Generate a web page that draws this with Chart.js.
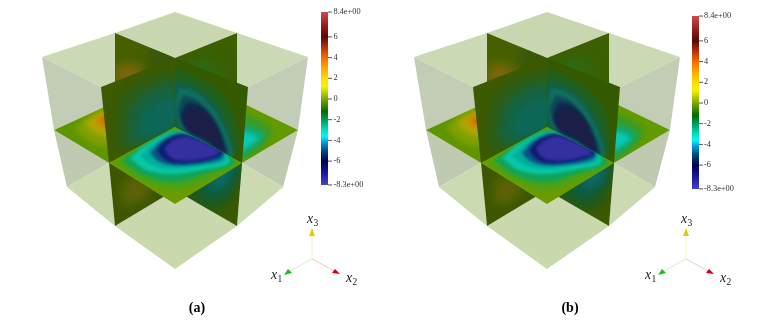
<!DOCTYPE html>
<html>
<head>
<meta charset="UTF-8">
<title>Cube slices</title>
<script src="https://cdn.jsdelivr.net/npm/chart.js"></script>
<style>
  html, body { margin: 0; background: #fff; }
  canvas { display: block; filter: blur(0.3px); }
</style>
</head>
<body>
<canvas id="chart" width="773" height="324"></canvas>
<script>
// colour bar
const barTicks = [8.4, 6, 4, 2, 0, -2, -4, -6, -8.3];
const barLabels = ['8.4e+00', '6', '4', '2', '0', '-2', '-4', '-6', '-8.3e+00'];
const barStopValues = [8.4, 7, 6, 5, 4, 3, 2, 1.2, 0, -1.2, -2, -3, -3.6, -4.2, -5, -6, -7, -8.3];
const barStopColors = ['#cc4a4a', '#8f1c1c', '#560808', '#b83208', '#f56a00', '#ffa800', '#ffdc00', '#f4f400',
  '#78a800', '#006c00', '#009a5c', '#00e0c0', '#00f8f8', '#0098d8', '#004c78', '#000050', '#14149a', '#4444cc'];

// pale outer faces of the cube
const topBack = [[175,12],[237,33],[175,58],[115,33]];
const topLeft = [[42,57],[115,33],[175,58],[101,87]];
const topRight = [[308,57],[237,33],[175,58],[248,87]];
const sideUpLeft = [[42,57],[101,87],[112,104],[54,130]];
const sideUpRight = [[308,57],[248,87],[238,104],[298,130]];
const sideLowLeft = [[54,130],[67,187],[109,163]];
const sideLowRight = [[298,130],[283,187],[242,163]];
const bottomLeft = [[67,187],[115,226],[109,163]];
const bottomRight = [[283,187],[237,226],[242,163]];
const bottomFront = [[115,226],[175,269],[237,226],[175,190]];

// slices: outline, then contour bands from outside in
const backLeft = [[115,33],[175,58],[175,127],[115,115]];
const backLeftBands = [
  ['#38580a', [[150,44],[178,56],[178,100],[150,95]]],
  ['#5f6606', [[113,64],[130,60],[146,70],[136,88],[116,90]]],
  ['#80660c', [[118,70],[129,67],[138,72],[130,80],[118,80]]]
];
const backRight = [[237,33],[175,58],[175,127],[237,115]];
const backRightBands = [
  ['#35640a', [[180,60],[205,54],[222,60],[224,90],[185,95]]],
  ['#2a6a1c', [[190,66],[206,64],[212,72],[204,82],[190,80]]]
];
const wingLeft = [[54,130],[120,100],[175,127],[109,163]];
const wingLeftBands = [
  ['#80a000', [[74,128],[90,114],[112,106],[114,144],[94,144]]],
  ['#b0a800', [[84,124],[96,115],[112,110],[112,136],[98,134]]],
  ['#cc9000', [[92,122],[102,115],[112,113],[112,128],[102,128]]],
  ['#c47008', [[99,120],[105,116],[112,116],[112,125],[104,125]]]
];
const wingRight = [[298,130],[240,102],[175,127],[242,163]];
const wingRightBands = [
  ['#3a9c24', [[240,112],[260,120],[272,132],[260,149],[240,160],[228,130]]],
  ['#10a870', [[240,122],[256,128],[265,136],[254,148],[240,156]]],
  ['#0cc8b4', [[240,130],[252,134],[258,138],[249,146],[240,150]]]
];
const lowerLeft = [[109,163],[115,226],[175,190],[175,127]];
const lowerLeftBands = [
  ['#526204', [[122,178],[142,178],[152,190],[136,204],[122,204]]],
  ['#5f6206', [[128,184],[140,184],[144,192],[134,198],[128,198]]]
];
const lowerRight = [[242,163],[237,226],[175,190],[175,127]];
const lowerRightBands = [
  ['#1c5a1c', [[184,168],[240,160],[232,198],[212,210],[186,194]]],
  ['#0c5e48', [[196,165],[238,162],[228,190],[212,198],[198,188]]],
  ['#0e6a6a', [[208,168],[232,165],[224,184],[214,186]]]
];
const wallLeft = [[175,58],[101,87],[109,163],[175,127]];
const wallLeftBands = [
  ['#2c5e18', [[175,68],[128,90],[116,122],[122,150],[175,124]]],
  ['#156340', [[175,80],[140,97],[128,125],[133,144],[175,125]]],
  ['#0d6858', [[175,96],[152,106],[140,124],[145,136],[175,124]]]
];
const wallRight = [[175,58],[248,87],[242,163],[175,127]];
const wallRightBands = [
  ['#20601e', [[175,68],[208,84],[232,110],[235,155],[175,127]]],
  ['#115f48', [[175,80],[200,90],[222,114],[231,155],[175,127]]],
  ['#10705e', [[179,88],[195,92],[216,113],[229,140],[232,158],[205,142],[182,128],[176,108]]],
  ['#0c4a5a', [[183,95],[197,100],[213,117],[225,140],[228,155],[205,141],[186,130],[178,110]]],
  ['#11264a', [[187,102],[201,106],[215,122],[223,142],[225,153],[205,140],[188,131],[181,116]]],
  ['#1b1f48', [[189,108],[204,112],[217,130],[223,150],[205,139],[190,130],[184,119]]]
];
const floorFront = [[175,127],[242,163],[175,204],[109,163]];
const floorFrontBands = [
  ['#4aa214', [[116,163],[138,148],[172,129],[214,144],[238,163],[214,177],[175,190],[137,178]]],
  ['#10a45a', [[122,160],[145,145],[175,131],[220,148],[234,163],[210,172],[175,182],[143,175]]],
  ['#08c8a8', [[130,158],[149,143],[178,132],[222,150],[229,163],[206,169],[172,174],[147,170]]],
  ['#00ac9c', [[140,156],[156,142],[180,133],[222,150],[225,161],[202,166],[172,169],[153,165]]],
  ['#0a5484', [[150,153],[163,140],[183,134],[223,151],[221,159],[198,164],[172,165],[158,161]]],
  ['#101c72', [[157,150],[168,139],[186,135],[223,152],[217,157],[197,162],[174,163],[163,158]]],
  ['#3530a0', [[164,148],[175,139],[189,137],[220,152],[213,156],[196,160],[177,160],[168,155]]]
];

// axes triad
const triadOrigin = [312, 259];
const triadEnds = [[288,272],[336,272],[312,234]];
const triadLineColors = ['#cfeecb', '#eccaca', '#f6f6b8'];
const triadHeads = [
  [[284,275],[288,269],[292,273]],
  [[340,274],[335,269],[332,273]],
  [[312,228],[309,236],[315,236]]
];
const triadHeadColors = ['#18c018', '#d00010', '#e0cc00'];
const triadNames = [['x', '1', 271, 279], ['x', '2', 346, 282], ['x', '3', 307, 223]];

const panels = [
  { name: '(a)', dx: 0, triadDx: 0, labelX: 197, barX: 321, barAxis: 'barA', barZero: 99, textX: 333.5 },
  { name: '(b)', dx: 372, triadDx: 374, labelX: 570, barX: 692, barAxis: 'barB', barZero: 103, textX: 704 }
];
const barPxPerUnit = 10.35;

function pts(list, dx) {
  return list.map(p => ({ x: p[0] + dx, y: p[1] }));
}
function closed(list) {
  return list.concat([list[0]]);
}
function polygon(list, dx, color) {
  return { data: pts(closed(list), dx), showLine: true, fill: 'shape', backgroundColor: color,
    borderWidth: 0, pointRadius: 0, tension: 0, xAxisID: 'x', yAxisID: 'y' };
}
// one slice: flat base colour and blurred contour bands clipped to its outline
function slice(out, outline, base, bands, dx, blur) {
  out.push(polygon(outline, dx, base));
  bands.forEach(b => {
    const d = polygon(b[1], dx, b[0]);
    d.tension = 0.35;
    d.clipTo = pts(outline, dx);
    d.blur = blur;
    out.push(d);
  });
}

const gradientCtx = document.getElementById('chart').getContext('2d');
const datasets = [];
panels.forEach(p => {
  const dx = p.dx;
  datasets.push(polygon(topBack, dx, '#c9d7b0'));
  datasets.push(polygon(topLeft, dx, '#cbd9b4'));
  datasets.push(polygon(topRight, dx, '#cbd9b4'));
  datasets.push(polygon(sideUpLeft, dx, '#c3cdb6'));
  datasets.push(polygon(sideUpRight, dx, '#c3cdb6'));
  datasets.push(polygon(sideLowLeft, dx, '#bfcab0'));
  datasets.push(polygon(sideLowRight, dx, '#bfcab0'));
  datasets.push(polygon(bottomLeft, dx, '#cbdab0'));
  datasets.push(polygon(bottomRight, dx, '#cbdab0'));
  datasets.push(polygon(bottomFront, dx, '#c9d9ad'));
  slice(datasets, backLeft, '#465f00', backLeftBands, dx, 4);
  slice(datasets, backRight, '#3c5f00', backRightBands, dx, 4);
  slice(datasets, wingLeft, '#5f9600', wingLeftBands, dx, 2.5);
  slice(datasets, wingRight, '#639a00', wingRightBands, dx, 2);
  slice(datasets, lowerLeft, '#3c5700', lowerLeftBands, dx, 4);
  slice(datasets, lowerRight, '#3a5900', lowerRightBands, dx, 4);
  slice(datasets, wallLeft, '#3c5a00', wallLeftBands, dx, 3.5);
  slice(datasets, wallRight, '#345a00', wallRightBands, dx, 1.8);
  slice(datasets, floorFront, '#6a9c00', floorFrontBands, dx, 1.4);

  // colour bar, read through its own value axis
  const top = barTicks[0], bottom = barTicks[barTicks.length - 1];
  const barGradient = gradientCtx.createLinearGradient(0, p.barZero - top * barPxPerUnit, 0, p.barZero - bottom * barPxPerUnit);
  barStopValues.forEach((v, i) => barGradient.addColorStop((top - v) / (top - bottom), barStopColors[i]));
  datasets.push({
    data: [{ x: p.barX, y: top }, { x: p.barX + 7, y: top }, { x: p.barX + 7, y: bottom }, { x: p.barX, y: bottom }, { x: p.barX, y: top }],
    showLine: true, fill: 'shape', borderWidth: 0, pointRadius: 0, xAxisID: 'x', yAxisID: p.barAxis,
    backgroundColor: barGradient
  });
  datasets.push({
    data: barTicks.map(v => ({ x: p.barX + 9, y: v })), showLine: false, xAxisID: 'x', yAxisID: p.barAxis,
    pointStyle: 'line', pointRadius: 2, borderColor: '#555', pointBorderColor: '#555', pointBorderWidth: 1
  });

  // triad
  triadEnds.forEach((e, i) => {
    datasets.push({
      data: pts([triadOrigin, e], p.triadDx), showLine: true, fill: false, borderColor: triadLineColors[i],
      borderWidth: 1, pointRadius: 0, xAxisID: 'x', yAxisID: 'y'
    });
    datasets.push(polygon(triadHeads[i], p.triadDx, triadHeadColors[i]));
  });
});
// chart.js paints the first dataset last
datasets.reverse();

// clip and blur for the contour bands; has to run before the filler plugin
const bandClip = {
  id: 'bandClip',
  beforeDatasetDraw(chart, args) {
    const d = chart.data.datasets[args.index];
    if (!d.clipTo) return;
    const ctx = chart.ctx;
    ctx.save();
    ctx.beginPath();
    d.clipTo.forEach((p, i) => {
      const x = chart.scales.x.getPixelForValue(p.x), y = chart.scales.y.getPixelForValue(p.y);
      if (i === 0) ctx.moveTo(x, y); else ctx.lineTo(x, y);
    });
    ctx.closePath();
    ctx.clip();
    ctx.filter = 'blur(' + d.blur + 'px)';
  },
  afterDatasetDraw(chart, args) {
    if (chart.data.datasets[args.index].clipTo) chart.ctx.restore();
  }
};
const filler = Chart.registry.plugins.get('filler');
Chart.unregister(filler);
Chart.register(bandClip, filler);

// bar labels, triad names and panel captions
const textPlugin = {
  id: 'texts',
  afterDraw(chart) {
    const ctx = chart.ctx;
    ctx.save();
    ctx.textBaseline = 'alphabetic';
    panels.forEach(p => {
      const s = chart.scales[p.barAxis];
      ctx.fillStyle = '#333';
      ctx.font = '8.3px "Liberation Serif"';
      ctx.textBaseline = 'middle';
      ctx.textAlign = 'left';
      barTicks.forEach((v, i) => ctx.fillText(barLabels[i], p.textX, s.getPixelForValue(v)));
      ctx.textBaseline = 'alphabetic';
      triadNames.forEach(n => {
        const x = n[2] + p.triadDx, y = n[3];
        ctx.fillStyle = '#222';
        ctx.font = 'italic 14px "Liberation Serif"';
        ctx.fillText(n[0], x, y);
        ctx.font = '9.5px "Liberation Serif"';
        ctx.fillText(n[1], x + 6.5, y + 2.5);
      });
      ctx.fillStyle = '#000';
      ctx.font = 'bold 14px "Liberation Serif"';
      ctx.textAlign = 'center';
      ctx.fillText(p.name, p.labelX, 312);
    });
    ctx.restore();
  }
};

const scales = {
  x: { type: 'linear', min: 0, max: 773, display: false },
  y: { type: 'linear', min: 0, max: 324, reverse: true, display: false }
};
panels.forEach(p => {
  scales[p.barAxis] = {
    type: 'linear', axis: 'y', display: false,
    max: p.barZero / barPxPerUnit,
    min: (p.barZero - 324) / barPxPerUnit
  };
});

new Chart(document.getElementById('chart'), {
  type: 'scatter',
  data: { datasets: datasets },
  options: {
    responsive: false,
    animation: false,
    events: [],
    layout: { padding: 0, autoPadding: false },
    scales: scales,
    plugins: { legend: { display: false }, tooltip: { enabled: false } }
  },
  plugins: [textPlugin]
});
</script>
</body>
</html>
